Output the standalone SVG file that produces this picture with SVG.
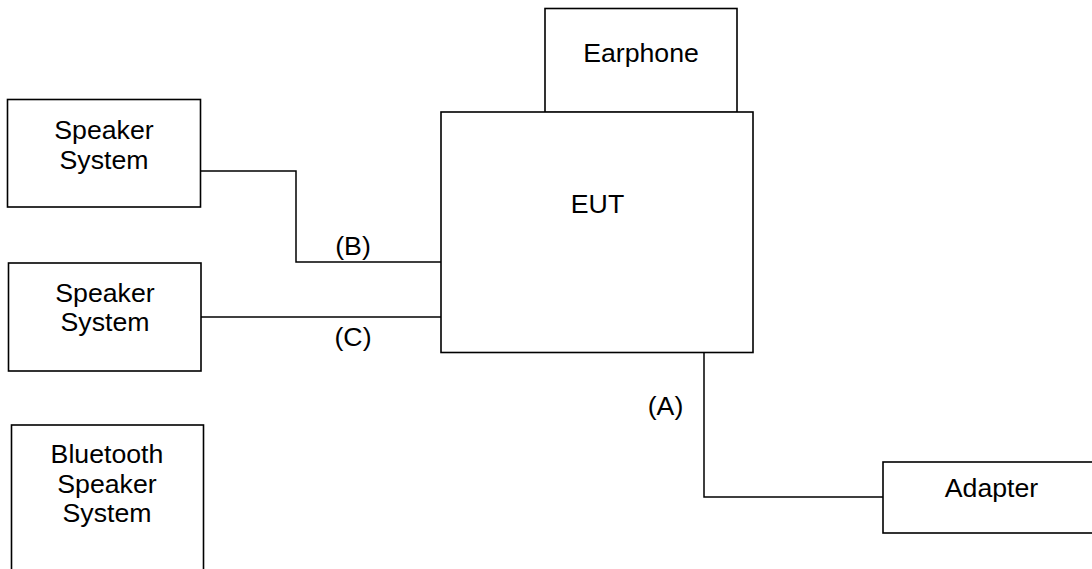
<svg xmlns="http://www.w3.org/2000/svg" width="1092" height="569" viewBox="0 0 1092 569">
<style>
.box{fill:#fff;stroke:#000;stroke-width:1.6}
.wire{fill:none;stroke:#000;stroke-width:1.5}
text{font-family:"Liberation Sans",Arial,sans-serif;font-size:26.7px;fill:#000;text-anchor:middle}
</style>
<rect width="1092" height="569" fill="#fff"/>
<g id="earphone"><rect class="box" x="545" y="8.5" width="192" height="104"/><text x="641" y="62">Earphone</text></g>
<g id="eut"><rect class="box" x="441" y="112" width="312" height="240.5"/><text x="597.5" y="213">EUT</text></g>
<g id="speaker1"><rect class="box" x="7.5" y="99.5" width="193" height="107.5"/><text x="104" y="139">Speaker</text><text x="104" y="169">System</text></g>
<g id="speaker2"><rect class="box" x="8.5" y="263" width="192.5" height="108"/><text x="105" y="302">Speaker</text><text x="105" y="331">System</text></g>
<g id="bluetooth"><rect class="box" x="11.5" y="425" width="192" height="160"/><text x="107" y="463">Bluetooth</text><text x="107" y="493">Speaker</text><text x="107" y="522">System</text></g>
<g id="adapter"><rect class="box" x="883" y="462" width="220" height="71"/><text x="991.5" y="497">Adapter</text></g>
<g id="connectors">
<polyline class="wire" points="201,171 296,171 296,262 441,262"/>
<line class="wire" x1="201" y1="317" x2="441" y2="317"/>
<polyline class="wire" points="704,353 704,497 883,497"/>
<text x="353" y="255">(B)</text>
<text x="353" y="346">(C)</text>
<text x="665.5" y="415">(A)</text>
</g>
</svg>
